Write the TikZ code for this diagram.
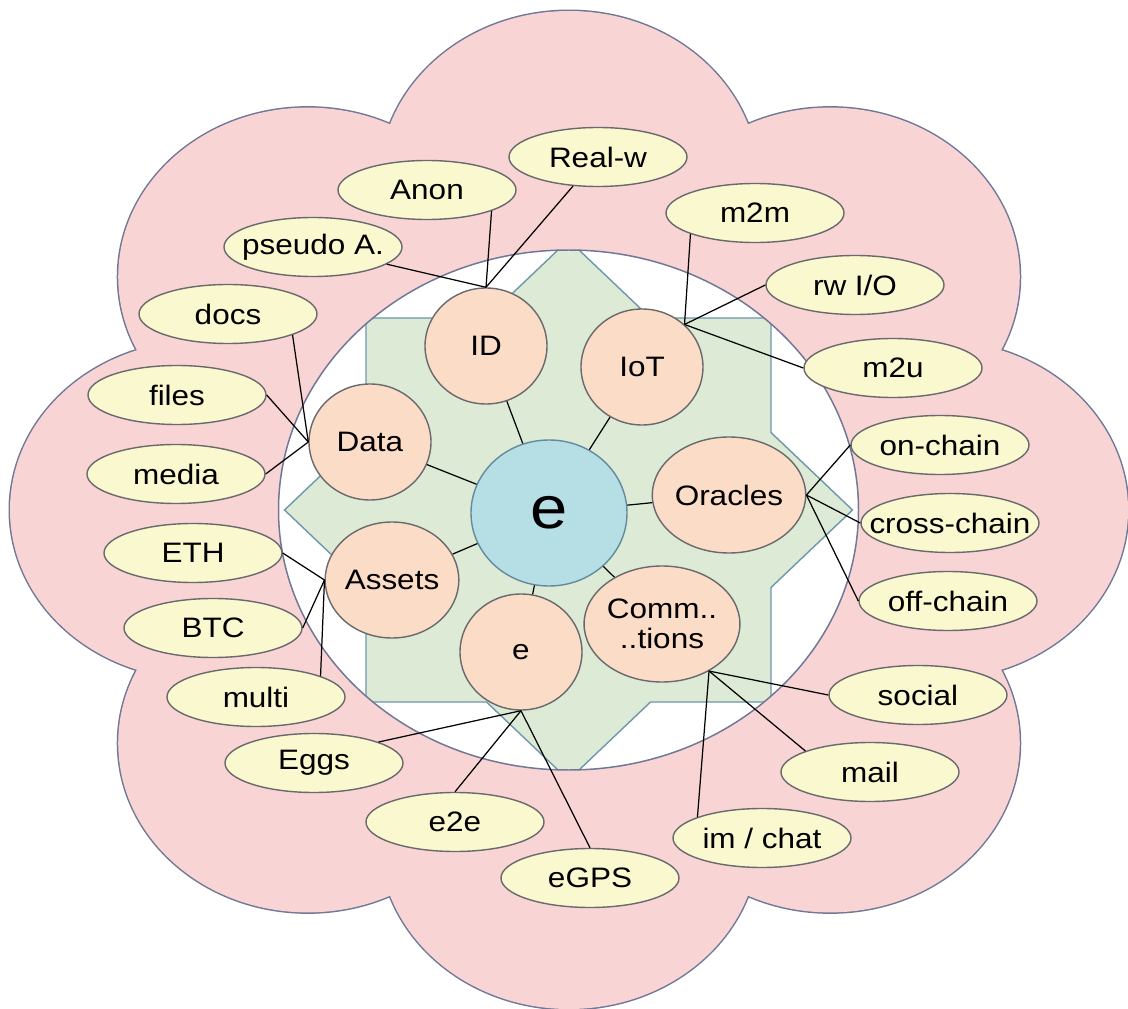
\documentclass[tikz,border=0pt]{standalone}
\usepackage{fontspec}
\setmainfont{Liberation Sans}[FakeStretch=1.12]
\usetikzlibrary{shapes.geometric}
\usepackage{xcolor}
\definecolor{petal}{RGB}{249,212,212}
\definecolor{petalline}{RGB}{112,120,150}
\definecolor{starfill}{RGB}{221,234,213}
\definecolor{starline}{RGB}{110,150,172}
\definecolor{hubfill}{RGB}{182,222,229}
\definecolor{hubline}{RGB}{100,138,158}
\definecolor{topicfill}{RGB}{251,220,198}
\definecolor{leaffill}{RGB}{250,248,206}
\definecolor{nodeline}{RGB}{105,105,110}

\begin{document}
\begin{tikzpicture}[x=0.2mm, y=-0.2mm,
    hub/.style={ellipse, draw=hubline, fill=hubfill, line width=0.8pt, minimum width=31.2mm, minimum height=29.2mm, inner sep=0pt, font=\fontsize{34}{40}\selectfont},
    topic/.style={ellipse, draw=nodeline, fill=topicfill, line width=0.8pt, minimum width=24.4mm, minimum height=23.2mm, inner sep=0pt, align=center, font=\fontsize{16}{17}\selectfont},
    leaf/.style={ellipse, draw=nodeline, fill=leaffill, line width=0.8pt, minimum width=35.6mm, minimum height=11.8mm, inner xsep=-4mm, inner ysep=0pt, font=\fontsize{16}{19}\selectfont},
    link/.style={line width=0.7pt}]
            \useasboundingbox (0,0) rectangle (1128,1009);
            % Petals
            \foreach \a in {0,45,...,315}
                \filldraw[fill=petal, draw=petalline, line width=1.7pt] ({569+369.5*cos(\a)},{510-329.8*sin(\a)}) ellipse [x radius=189.5, y radius=169.2];
            \foreach \a in {0,45,...,315}
                \fill[petal] ({569+369.5*cos(\a)},{510-329.8*sin(\a)}) ellipse [x radius=189.5, y radius=169.2];
            \fill[petal] (569,510) ellipse [x radius=400, y radius=360];
            % Inner disc and star
            \fill[white] (568.5,510) ellipse [x radius=290, y radius=260];
            \begin{scope}
                \clip (568.5,510) ellipse [x radius=290, y radius=260];
                \filldraw[fill=starfill, draw=starline, line width=0.8pt] (852.5,510) -- (771,432.5) -- (771,318) -- (650.5,318) -- (568.5,240) -- (486.5,318) -- (366,318) -- (366,432.5) -- (284.5,510) -- (366,587.5) -- (366,702) -- (486.5,702) -- (568.5,780) -- (650.5,702) -- (771,702) -- (771,587.5) -- cycle;
            \end{scope}
            \draw[petalline, line width=0.85pt] (568.5,510) ellipse [x radius=290, y radius=260];

            % Hub and topics
            \node[hub] (hub) at (549,513) {e};
            \node[topic] (id) at (486,346) {ID};
            \node[topic] (iot) at (642,367) {IoT};
            \node[topic] (data) at (370,442) {Data};
            \node[topic] (orac) at (729,495) {Oracles};
            \node[topic] (assets) at (392,580) {Assets};
            \node[topic] (esub) at (521,652) {e};
            \node[topic] (comm) at (662,624) {Comm..\\..tions};

            % Leaves
            \node[leaf] (realw) at (598,157) {Real-w};
            \node[leaf] (anon) at (427,190) {Anon};
            \node[leaf] (pseudo) at (313,247) {pseudo A.};
            \node[leaf] (docs) at (228,314) {docs};
            \node[leaf] (files) at (177,395) {files};
            \node[leaf] (media) at (176,474) {media};
            \node[leaf] (eth) at (193,553) {ETH};
            \node[leaf] (btc) at (213,628) {BTC};
            \node[leaf] (multi) at (256,697) {multi};
            \node[leaf] (eggs) at (314,763) {Eggs};
            \node[leaf] (etoe) at (455,822) {e2e};
            \node[leaf] (egps) at (590,878) {eGPS};
            \node[leaf] (mtom) at (755,213) {m2m};
            \node[leaf] (rwio) at (855,285) {rw I/O};
            \node[leaf] (mtou) at (893,368) {m2u};
            \node[leaf] (onchain) at (940,445) {on-chain};
            \node[leaf] (crosschain) at (950,523) {cross-chain};
            \node[leaf] (offchain) at (948,601) {off-chain};
            \node[leaf] (social) at (918,695) {social};
            \node[leaf] (mail) at (870,772) {mail};
            \node[leaf] (imchat) at (762,838) {im / chat};

            % Spokes
            \foreach \t in {id,iot,data,orac,assets,esub,comm}
                \draw[link] (hub) -- (\t);
            \draw[link] (pseudo) -- (id.north);
            \draw[link] (anon.-18) -- (id.north);
            \draw[link] (realw) -- (id.north);
            \draw[link] (mtom.198) -- (iot.45);
            \draw[link] (rwio.west) -- (iot.45);
            \draw[link] (mtou.west) -- (iot.45);
            \draw[link] (docs.-18) -- (data.west);
            \draw[link] (files.east) -- (data.west);
            \draw[link] (media.east) -- (data.west);
            \draw[link] (onchain.west) -- (orac.east);
            \draw[link] (crosschain.west) -- (orac.east);
            \draw[link] (offchain.west) -- (orac.east);
            \draw[link] (eth.east) -- (assets.west);
            \draw[link] (btc.east) -- (assets.west);
            \draw[link] (multi.18) -- (assets.west);
            \draw[link] (eggs.18) -- (esub.south);
            \draw[link] (etoe.north) -- (esub.south);
            \draw[link] (egps.north) -- (esub.south);
            \draw[link] (social.west) -- (comm.-45);
            \draw[link] (mail.162) -- (comm.-45);
            \draw[link] (imchat.162) -- (comm.-45);
        \end{tikzpicture}
\end{document}
